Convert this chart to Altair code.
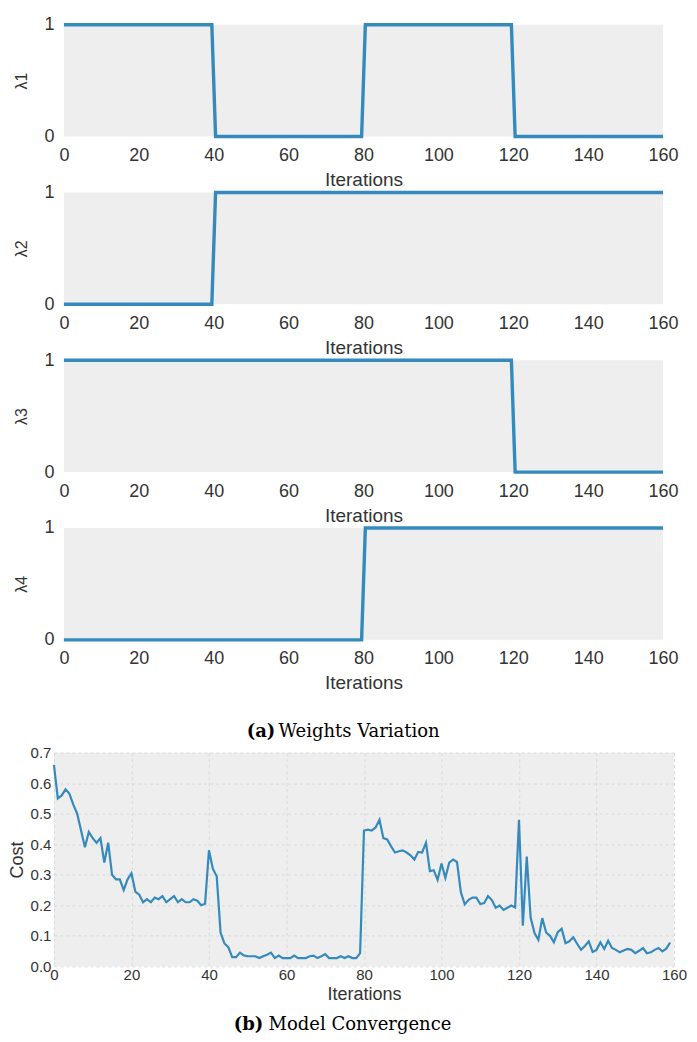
import altair as alt
import pandas as pd

# ---------------- data ----------------
# step breakpoints for the four weights (iteration, value)
l1_iter = [0, 39.5, 40.5, 79.5, 80.5, 119.5, 120.5, 160]
l1_val = [1, 1, 0, 0, 1, 1, 0, 0]
l2_iter = [0, 39.5, 40.5, 160]
l2_val = [0, 0, 1, 1]
l3_iter = [0, 119.5, 120.5, 160]
l3_val = [1, 1, 0, 0]
l4_iter = [0, 79.5, 80.5, 160]
l4_val = [0, 0, 1, 1]

x_ticks = [0, 20, 40, 60, 80, 100, 120, 140, 160]
cost_ticks = [0.0, 0.1, 0.2, 0.3, 0.4, 0.5, 0.6, 0.7]

cost = [
    0.66, 0.55, 0.56, 0.58, 0.565, 0.53, 0.50, 0.445, 0.39, 0.44,
    0.42, 0.405, 0.42, 0.34, 0.405, 0.30, 0.285, 0.285, 0.25, 0.285,
    0.305, 0.245, 0.235, 0.21, 0.22, 0.21, 0.225, 0.22, 0.23, 0.21,
    0.22, 0.23, 0.21, 0.22, 0.21, 0.21, 0.22, 0.215, 0.20, 0.205,
    0.38, 0.32, 0.295, 0.11, 0.075, 0.063, 0.03, 0.03, 0.045, 0.036,
    0.033, 0.033, 0.033, 0.027, 0.033, 0.038, 0.045, 0.027, 0.035, 0.027,
    0.027, 0.027, 0.035, 0.027, 0.027, 0.027, 0.033, 0.035, 0.027, 0.033,
    0.04, 0.027, 0.027, 0.027, 0.033, 0.027, 0.033, 0.027, 0.027, 0.043,
    0.445, 0.448, 0.445, 0.455, 0.48, 0.42, 0.416, 0.393, 0.373, 0.377,
    0.38, 0.373, 0.364, 0.35, 0.375, 0.373, 0.405, 0.312, 0.315, 0.283,
    0.337, 0.29, 0.34, 0.35, 0.342, 0.243, 0.203, 0.218, 0.225, 0.225,
    0.204, 0.207, 0.23, 0.217, 0.192, 0.199, 0.185, 0.192, 0.199, 0.193,
    0.48, 0.133, 0.36, 0.16, 0.109, 0.087, 0.158, 0.111, 0.10, 0.079,
    0.112, 0.123, 0.076, 0.082, 0.095, 0.074, 0.054, 0.067, 0.082, 0.047,
    0.054, 0.079, 0.057, 0.084, 0.06, 0.054, 0.046, 0.052, 0.057, 0.054,
    0.043, 0.051, 0.06, 0.043, 0.046, 0.054, 0.06, 0.049, 0.058, 0.078,
]
iterations = list(range(len(cost)))

BLUE = "#348ABD"
BG = "#EEEEEE"
TXT = "#333333"
SANS = "Liberation Sans"
SERIF = "DejaVu Serif"

# ---------------- top panels ----------------
xscale = alt.Scale(domain=[0, 160], range=[10, 610], nice=False, zero=False)
yscale = alt.Scale(domain=[0, 1], nice=False)

xaxis = alt.Axis(values=x_ticks, format="d", labelFontSize=18, titleFontSize=19,
                 labelPadding=10, titlePadding=6, domain=False, ticks=False,
                 grid=False, labelFlush=False, labelColor=TXT, titleColor=TXT,
                 labelFont=SANS, titleFont=SANS, titleFontWeight="normal")


def yaxis():
    return alt.Axis(values=[0, 1], format="d", labelFontSize=18, titleFontSize=16,
                    labelPadding=0, titlePadding=14, domain=False, ticks=False,
                    grid=False, labelColor=TXT, titleColor=TXT, labelFont=SANS,
                    titleFont=SANS, titleFontWeight="normal")


bg_df = pd.DataFrame({"x0": [0], "x1": [160], "y0": [0], "y1": [1]})


def panel(xs, ys, ylab, caption=None):
    df = pd.DataFrame({"it": xs, "v": ys})
    bg = alt.Chart(bg_df).mark_rect(color=BG).encode(
        x=alt.X("x0:Q", scale=xscale, axis=xaxis, title="Iterations"),
        x2="x1:Q",
        y=alt.Y("y0:Q", scale=yscale, axis=yaxis(), title=ylab),
        y2="y1:Q",
    )
    line = alt.Chart(df).mark_line(color=BLUE, strokeWidth=3.4, clip=False).encode(
        x=alt.X("it:Q", scale=xscale, axis=xaxis, title="Iterations"),
        y=alt.Y("v:Q", scale=yscale, axis=yaxis(), title=ylab),
    )
    layers = [bg, line]
    if caption is not None:
        cap_df = pd.DataFrame({"a": [0]})
        t1 = alt.Chart(cap_df).mark_text(text=caption[0], font=SERIF, fontSize=18,
                                         fontWeight="bold", align="left",
                                         baseline="alphabetic", color="#000000").encode(
            x=alt.value(193), y=alt.value(209))
        t2 = alt.Chart(cap_df).mark_text(text=caption[1], font=SERIF, fontSize=18,
                                         align="left", baseline="alphabetic",
                                         color="#000000").encode(
            x=alt.value(225), y=alt.value(209))
        layers += [t1, t2]
    return alt.layer(*layers).properties(width=610, height=112)


p1 = panel(l1_iter, l1_val, "λ1")
p2 = panel(l2_iter, l2_val, "λ2")
p3 = panel(l3_iter, l3_val, "λ3")
p4 = panel(l4_iter, l4_val, "λ4", caption=("(a)", "Weights Variation"))

spacer = alt.Chart(pd.DataFrame({"a": [0]})).mark_point(opacity=0).encode(
    x=alt.value(0), y=alt.value(0)).properties(width=610, height=1)

# ---------------- bottom panel ----------------
cost_df = pd.DataFrame({"it": iterations, "cost": cost})

bx = alt.X("it:Q", scale=alt.Scale(domain=[0, 160], nice=False, zero=False),
           title="Iterations",
           axis=alt.Axis(values=x_ticks, format="d", labelFontSize=15,
                         titleFontSize=18, labelPadding=1, titlePadding=3,
                         domain=False, ticks=False, grid=True, gridColor="#D9D9D9",
                         gridDash=[3, 3], gridWidth=1, labelFlush=False,
                         labelColor=TXT, titleColor=TXT, labelFont=SANS,
                         titleFont=SANS, titleFontWeight="normal"))
by = alt.Y("cost:Q", scale=alt.Scale(domain=[0, 0.7], nice=False), title="Cost",
           axis=alt.Axis(values=cost_ticks, format=".1f", labelFontSize=15,
                         titleFontSize=18, labelPadding=3, titlePadding=4,
                         domain=False, ticks=False, grid=True, gridColor="#D9D9D9",
                         gridDash=[3, 3], gridWidth=1, labelFlush=False,
                         labelColor=TXT, titleColor=TXT, labelFont=SANS,
                         titleFont=SANS, titleFontWeight="normal"))

cost_line = alt.Chart(cost_df).mark_line(color=BLUE, strokeWidth=2.2).encode(x=bx, y=by)

cap_df2 = pd.DataFrame({"a": [0]})
cb1 = alt.Chart(cap_df2).mark_text(text="(b)", font=SERIF, fontSize=18, fontWeight="bold",
                                   align="left", baseline="alphabetic",
                                   color="#000000").encode(x=alt.value(180), y=alt.value(278))
cb2 = alt.Chart(cap_df2).mark_text(text="Model Convergence", font=SERIF, fontSize=18,
                                   align="left", baseline="alphabetic",
                                   color="#000000").encode(x=alt.value(215), y=alt.value(278))

bottom = alt.layer(cost_line, cb1, cb2).properties(
    width=621, height=214,
    view=alt.ViewBackground(fill=BG, strokeWidth=0),
)

chart = alt.vconcat(p1, p2, p3, p4, spacer, bottom, spacing=56, bounds="flush").properties(
    padding={"left": 0, "top": 7, "right": 2, "bottom": 0},
    background="#FFFFFF",
).configure_view(strokeWidth=0)

chart.save("out.html", embed_options={"renderer": "svg", "actions": False})
